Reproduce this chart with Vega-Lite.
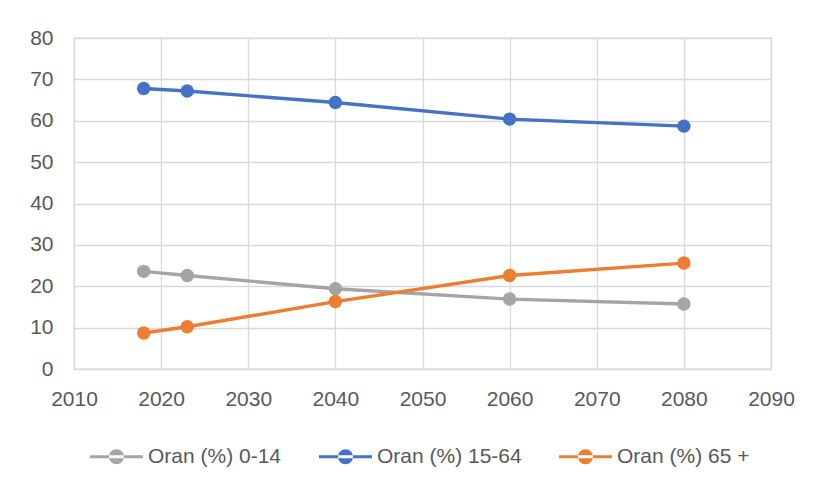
{
  "$schema": "https://vega.github.io/schema/vega-lite/v6.json",
  "autosize": {"type": "none"},
  "width": 697,
  "height": 331,
  "padding": {"left": 74, "top": 38, "right": 44, "bottom": 115},
  "background": "white",
  "config": {
    "font": "Liberation Sans",
    "view": {"stroke": "#d9d9d9", "strokeWidth": 1.3},
    "axis": {
      "gridColor": "#d9d9d9",
      "gridWidth": 1.3,
      "domain": false,
      "ticks": false,
      "labelFlush": false,
      "labelOverlap": false,
      "labelFont": "Liberation Sans",
      "labelFontSize": 21,
      "labelColor": "#595959",
      "title": null
    }
  },
  "data": {
    "values": [
      {"year": 2018, "series": "Oran (%) 0-14", "value": 23.6},
      {"year": 2023, "series": "Oran (%) 0-14", "value": 22.6},
      {"year": 2040, "series": "Oran (%) 0-14", "value": 19.4},
      {"year": 2060, "series": "Oran (%) 0-14", "value": 16.9},
      {"year": 2080, "series": "Oran (%) 0-14", "value": 15.7},
      {"year": 2018, "series": "Oran (%) 15-64", "value": 67.8},
      {"year": 2023, "series": "Oran (%) 15-64", "value": 67.2},
      {"year": 2040, "series": "Oran (%) 15-64", "value": 64.4},
      {"year": 2060, "series": "Oran (%) 15-64", "value": 60.4},
      {"year": 2080, "series": "Oran (%) 15-64", "value": 58.7},
      {"year": 2018, "series": "Oran (%) 65 +", "value": 8.7},
      {"year": 2023, "series": "Oran (%) 65 +", "value": 10.2},
      {"year": 2040, "series": "Oran (%) 65 +", "value": 16.3},
      {"year": 2060, "series": "Oran (%) 65 +", "value": 22.6},
      {"year": 2080, "series": "Oran (%) 65 +", "value": 25.6}
    ]
  },
  "encoding": {
    "x": {
      "field": "year",
      "type": "quantitative",
      "scale": {"domain": [2010, 2090], "nice": false, "zero": false},
      "axis": {"values": [2010, 2020, 2030, 2040, 2050, 2060, 2070, 2080, 2090], "format": "d", "labelPadding": 19}
    },
    "y": {
      "field": "value",
      "type": "quantitative",
      "scale": {"domain": [0, 80], "nice": false},
      "axis": {"values": [0, 10, 20, 30, 40, 50, 60, 70, 80], "labelPadding": 21}
    },
    "color": {
      "field": "series",
      "type": "nominal",
      "scale": {
        "domain": ["Oran (%) 0-14", "Oran (%) 15-64", "Oran (%) 65 +"],
        "range": ["#a5a5a5", "#4472c4", "#ed7d31"]
      },
      "legend": {
        "orient": "none",
        "legendX": 16,
        "legendY": 392,
        "direction": "horizontal",
        "title": null,
        "padding": 0,
        "labelFontSize": 21,
        "labelColor": "#595959",
        "labelFont": "Liberation Sans",
        "symbolType": "M-1,-0.057H1V0.057H-1Z M-0.283,0A0.283,0.283 0 1,0 0.283,0A0.283,0.283 0 1,0 -0.283,0Z",
        "symbolSize": 2809,
        "symbolStrokeWidth": 0,
        "labelOffset": 5,
        "columnPadding": 37
      }
    }
  },
  "layer": [
    {"mark": {"type": "line", "strokeWidth": 3.4}},
    {"mark": {"type": "point", "filled": true, "size": 180, "opacity": 1}}
  ]
}
